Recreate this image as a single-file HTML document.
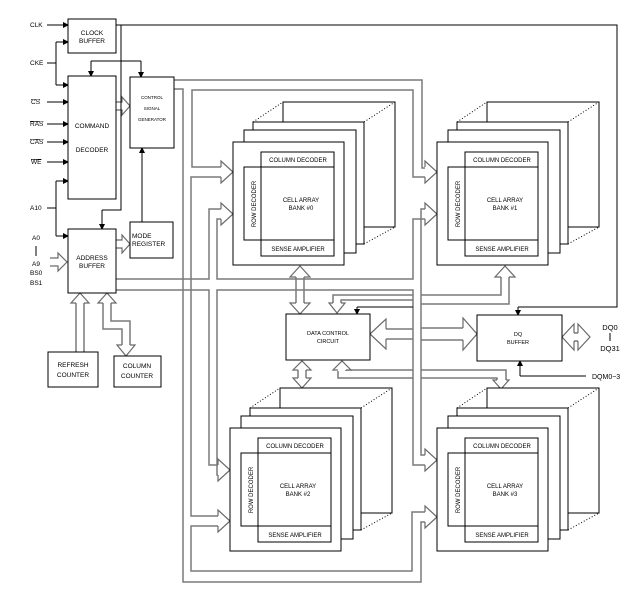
<!DOCTYPE html>
<html><head><meta charset="utf-8"><style>
html,body{margin:0;padding:0;background:#fff}
svg{display:block;font-family:"Liberation Sans",Arial,sans-serif}
</style></head><body>
<svg width="643" height="592" viewBox="0 0 643 592" xmlns="http://www.w3.org/2000/svg">
<defs>
<marker id="ah" markerWidth="6" markerHeight="6" refX="5" refY="3" orient="auto" markerUnits="userSpaceOnUse"><path d="M0,0 L6,3 L0,6 z" fill="#000"/></marker>
<g id="bank">
 <rect x="50" y="-40" width="112" height="125" fill="#fff" stroke="#000"/>
 <line x1="20" y1="-20" x2="50" y2="-40" stroke="#000" stroke-dasharray="1,2"/>
 <line x1="131" y1="-20" x2="162" y2="-40" stroke="#000" stroke-dasharray="1,2"/>
 <line x1="131" y1="102" x2="162" y2="85" stroke="#000" stroke-dasharray="1,2"/>
 <rect x="20" y="-20" width="111" height="122" fill="#fff" stroke="#000"/>
 <rect x="11" y="-12" width="112" height="123" fill="#fff" stroke="#000"/>
 <rect x="0" y="0" width="111" height="123" fill="#fff" stroke="#000"/>
 <rect x="28" y="10" width="73" height="104" fill="#fff" stroke="#000"/>
 <line x1="28" y1="25" x2="101" y2="25" stroke="#000"/>
 <line x1="28" y1="98" x2="101" y2="98" stroke="#000"/>
 <rect x="11" y="25" width="17" height="73" fill="#fff" stroke="#000"/>
</g>
</defs>

<g stroke="#7a7a7a" fill="none" stroke-width="1.5">
<polyline points="174,80 422,80 422,168 426,168"/>
<polyline points="174,89 183,89 183,582 421,582 421,522 426,522"/>
<polyline points="222,167 192,167 192,90 413,90 413,177 426,177"/>
<polyline points="222,177 191,177 191,516 219,516"/>
<polyline points="219,526 191,526 191,571 412,571 412,512 426,512"/>
<polyline points="116,279 209,279 209,209 222,209"/>
<polyline points="222,219 217,219 217,279 413,279 413,219 426,219"/>
<polyline points="116,290 209,290 209,465 219,465"/>
<polyline points="219,475 217,475 217,290 413,290 413,465 426,465"/>
<polyline points="426,209 421,209 421,455 426,455"/>
<polyline points="296,277 296,303"/><polyline points="304,277 304,303"/>
<polyline points="333,303 333,295 413,295"/>
<polyline points="341,303 341,300 413,300"/>
<polyline points="421,295 501,295 501,277"/>
<polyline points="421,304 509,304 509,277"/>
<polyline points="382,329 413,329"/><polyline points="382,339 413,339"/>
<polyline points="421,328 465,328"/><polyline points="421,340 465,340"/>
<polyline points="338,371 338,378 413,378"/>
<polyline points="346,371 346,370 413,370"/>
<polyline points="421,370 506,370 506,380"/>
<polyline points="421,378 497,378 497,380"/>
<polyline points="298,370 298,378"/><polyline points="306,370 306,378"/>
<polyline points="574,333 578,333"/><polyline points="574,341 578,341"/>
<polyline points="76,303 76,352"/><polyline points="84,303 84,352"/>
<polyline points="103,303 103,329 122,329 122,345"/>
<polyline points="111,303 111,321 130,321 130,345"/>
</g>

<g stroke="#6a6a6a" fill="#fff" stroke-width="1.2">
<polyline points="221,167 221,161 233,172 221,183 221,177"/>
<polyline points="221,209 221,203 233,214 221,225 221,219"/>
<polyline points="425,167 425,161 437,172 425,183 425,177"/>
<polyline points="425,209 425,203 437,214 425,225 425,219"/>
<polyline points="218,465 218,459 230,470 218,481 218,475"/>
<polyline points="218,516 218,510 230,521 218,532 218,526"/>
<polyline points="425,455 425,449 437,460 425,471 425,465"/>
<polyline points="425,512 425,506 437,517 425,528 425,522"/>
<polyline points="463,328 463,318 477,334 463,350 463,340"/>
<polyline points="386,329 386,319 370,334 386,349 386,339"/>
<polyline points="116,102 122,102 122,97 130,106 122,115 122,110 116,110"/>
<polyline points="116,240 122,240 122,235 130,244 122,253 122,248 116,248"/>
<polyline points="50,258 58,258 58,253 67,262 58,271 58,266 50,266"/>
<polyline points="296,277 290,277 300,266 310,277 304,277"/>
<polyline points="296,303 290,303 300,314 310,303 304,303"/>
<polyline points="333,303 329,303 337,313 345,303 341,303"/>
<polyline points="501,277 495,277 505,266 515,277 509,277"/>
<polyline points="338,370 333,370 342,361 351,370 346,370"/>
<polyline points="497,380 493,380 501,389 509,380 506,380"/>
<polyline points="298,370 293,370 302,361 311,370 306,370"/>
<polyline points="298,378 293,378 302,388 311,378 306,378"/>
<polyline points="574,333 574,324 562,337 574,350 574,341"/>
<polyline points="578,333 578,324 590,337 578,350 578,341"/>
<polyline points="76,303 71,303 80,293 89,303 84,303"/>
<polyline points="103,303 98,303 107,293 116,303 111,303"/>
<polyline points="122,345 117,345 126,356 135,345 130,345"/>
</g>

<g stroke="#000" fill="none" stroke-width="1">
<polyline points="116,25 617,25 617,307 518,307"/>
<line x1="518" y1="307" x2="518" y2="315" marker-end="url(#ah)"/>
<polyline points="121,25 121,210 102,210" />
<line x1="102" y1="210" x2="102" y2="229" marker-end="url(#ah)"/>
<polyline points="91,61 141,61"/>
<line x1="91" y1="61" x2="91" y2="76" marker-end="url(#ah)"/>
<line x1="141" y1="61" x2="141" y2="77" marker-end="url(#ah)"/>
<line x1="142" y1="222" x2="142" y2="148" marker-end="url(#ah)"/>
<line x1="47" y1="25" x2="68" y2="25" marker-end="url(#ah)"/>
<polyline points="47,63 56,63"/><polyline points="56,42 56,85"/>
<line x1="56" y1="42" x2="68" y2="42" marker-end="url(#ah)"/>
<line x1="56" y1="85" x2="68" y2="85" marker-end="url(#ah)"/>
<line x1="47" y1="102" x2="68" y2="102" marker-end="url(#ah)"/>
<line x1="47" y1="124" x2="68" y2="124" marker-end="url(#ah)"/>
<line x1="47" y1="142" x2="68" y2="142" marker-end="url(#ah)"/>
<line x1="47" y1="162" x2="68" y2="162" marker-end="url(#ah)"/>
<polyline points="47,208 56,208"/><polyline points="56,181 56,236"/>
<line x1="56" y1="181" x2="68" y2="181" marker-end="url(#ah)"/>
<line x1="56" y1="236" x2="68" y2="236" marker-end="url(#ah)"/>
<line x1="36" y1="246" x2="36" y2="256"/>
<rect x="68" y="19" width="48" height="34" fill="#fff"/>
<rect x="68" y="76" width="48" height="123" fill="#fff"/>
<rect x="130" y="77" width="44" height="71" fill="#fff"/>
<rect x="130" y="222" width="43" height="36" fill="#fff"/>
<rect x="68" y="229" width="48" height="64" fill="#fff"/>
<rect x="48" y="352" width="50" height="35" fill="#fff"/>
<rect x="114" y="356" width="47" height="31" fill="#fff"/>
<polyline points="413,307 357,307"/>
<line x1="357" y1="307" x2="357" y2="314" marker-end="url(#ah)"/>
<polyline points="586,376 520,376"/>
<line x1="520" y1="376" x2="520" y2="361" marker-end="url(#ah)"/>
<line x1="610" y1="333" x2="610" y2="341"/>
</g>

<rect x="286" y="314" width="84" height="46" fill="#fff" stroke="#000"/>
<rect x="477" y="315" width="85" height="46" fill="#fff" stroke="#000"/>

<use href="#bank" transform="translate(233,142)"/>
<use href="#bank" transform="translate(437,142)"/>
<use href="#bank" transform="translate(230,428)"/>
<use href="#bank" transform="translate(437,428)"/>

<g font-size="6.5" fill="#000" text-anchor="middle">
<text x="92" y="35">CLOCK</text><text x="92" y="43">BUFFER</text>
<text x="92" y="128">COMMAND</text><text x="92" y="152">DECODER</text>
<text x="152" y="99" font-size="4.5">CONTROL</text><text x="152" y="110" font-size="4.5">SIGNAL</text><text x="152" y="121" font-size="4.5">GENERATOR</text>
<text x="92" y="260">ADDRESS</text><text x="92" y="268">BUFFER</text>
<text x="73" y="367">REFRESH</text><text x="73" y="377">COUNTER</text>
<text x="137" y="368">COLUMN</text><text x="137" y="378">COUNTER</text>
<text x="328" y="335" font-size="5.5">DATA CONTROL</text><text x="328" y="343" font-size="5.5">CIRCUIT</text>
<text x="518" y="336" font-size="5.5">DQ</text><text x="518" y="344" font-size="5.5">BUFFER</text>
<text x="610" y="330" font-size="7.5">DQ0</text><text x="610" y="351" font-size="7.5">DQ31</text>
</g>
<g font-size="6.5" fill="#000">
<text x="132" y="238">MODE</text><text x="132" y="246">REGISTER</text>
<text x="30" y="27">CLK</text><text x="30" y="65">CKE</text>
<text x="31" y="104" text-decoration="overline">CS</text>
<text x="30" y="126" text-decoration="overline">RAS</text>
<text x="30" y="144" text-decoration="overline">CAS</text>
<text x="31" y="164" text-decoration="overline">WE</text>
<text x="30" y="210">A10</text>
<text x="32" y="240">A0</text><text x="32" y="266">A9</text>
<text x="30" y="275">BS0</text><text x="30" y="285">BS1</text>
<text x="592" y="379" font-size="7">DQM0~3</text>
</g>
<g font-size="6" fill="#000" text-anchor="middle">
<text x="298" y="162">COLUMN DECODER</text><text x="298" y="251">SENSE AMPLIFIER</text>
<text x="301" y="202">CELL ARRAY</text><text x="301" y="210">BANK #0</text>
<text transform="translate(256,204) rotate(-90)">ROW DECODER</text>
<text x="502" y="162">COLUMN DECODER</text><text x="502" y="251">SENSE AMPLIFIER</text>
<text x="505" y="202">CELL ARRAY</text><text x="505" y="210">BANK #1</text>
<text transform="translate(460,204) rotate(-90)">ROW DECODER</text>
<text x="295" y="448">COLUMN DECODER</text><text x="295" y="537">SENSE AMPLIFIER</text>
<text x="298" y="488">CELL ARRAY</text><text x="298" y="496">BANK #2</text>
<text transform="translate(253,490) rotate(-90)">ROW DECODER</text>
<text x="502" y="448">COLUMN DECODER</text><text x="502" y="537">SENSE AMPLIFIER</text>
<text x="505" y="488">CELL ARRAY</text><text x="505" y="496">BANK #3</text>
<text transform="translate(460,490) rotate(-90)">ROW DECODER</text>
</g>
</svg>
</body></html>
